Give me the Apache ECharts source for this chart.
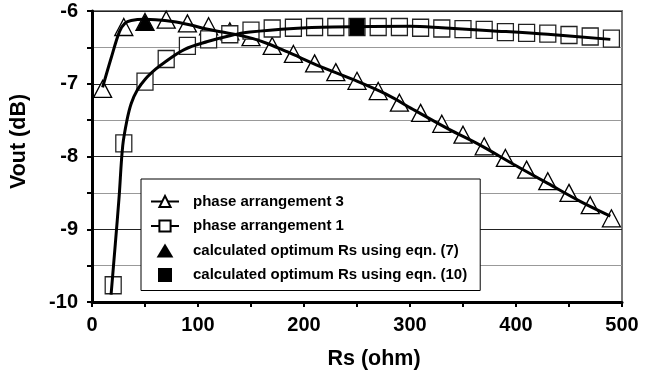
<!DOCTYPE html>
<html>
<head>
<meta charset="utf-8">
<script src="https://cdn.jsdelivr.net/npm/echarts@6/dist/echarts.min.js"></script>
<style>html,body{margin:0;padding:0;background:#fff;}#c{width:660px;height:375px;}</style>
</head>
<body>
<div id="c"></div>
<script>
// Measured points: phase arrangement 3 (triangles)
const rs3 = [10,30,50,70,90,110,130,150,170,190,210,230,250,270,290,310,330,350,370,390,410,430,450,470,490];
const vout3 = [-7.07,-6.22,-6.15,-6.12,-6.17,-6.21,-6.28,-6.36,-6.48,-6.59,-6.72,-6.84,-6.96,-7.10,-7.26,-7.40,-7.55,-7.70,-7.86,-8.02,-8.18,-8.34,-8.50,-8.67,-8.85];
// Measured points: phase arrangement 1 (squares)
const rs1 = [20,30,50,70,90,110,130,150,170,190,210,230,250,270,290,310,330,350,370,390,410,430,450,470,490];
const vout1 = [-9.77,-7.82,-6.97,-6.66,-6.48,-6.39,-6.32,-6.27,-6.24,-6.23,-6.22,-6.22,-6.22,-6.22,-6.22,-6.23,-6.24,-6.25,-6.26,-6.29,-6.30,-6.31,-6.33,-6.35,-6.38];
// Fitted curves
const fit3Rs = [10,18,26,31,37,50,60,76,92,107,123,138,152,166,184,215,246,277,305,336,367,398,430,461,489];
const fit3Vout = [-7.05,-6.65,-6.28,-6.17,-6.13,-6.115,-6.12,-6.145,-6.19,-6.245,-6.29,-6.33,-6.38,-6.45,-6.56,-6.76,-6.94,-7.14,-7.37,-7.62,-7.85,-8.11,-8.37,-8.62,-8.82];
const fit1Rs = [18,22,25.5,29,33,37,43,50,60,68,87,109,130,149,190,227,300,330,376,430,489];
const fit1Vout = [-9.9,-9.2,-8.57,-7.85,-7.5,-7.27,-7.08,-6.94,-6.8,-6.71,-6.53,-6.42,-6.34,-6.29,-6.24,-6.22,-6.21,-6.23,-6.27,-6.32,-6.39];
// Calculated optimum points
const opt7Rs = [50];  const opt7Vout = [-6.15];
const opt10Rs = [250]; const opt10Vout = [-6.22];
const names = ['phase arrangement 3','phase arrangement 1','calculated optimum Rs using eqn. (7)','calculated optimum Rs using eqn. (10)'];

const zip = (a, b) => a.map((v, i) => [v, b[i]]);
const FONT = "'Liberation Sans', Arial, sans-serif";

const chart = echarts.init(document.getElementById('c'), null, {renderer: 'canvas'});
chart.setOption({
  animation: false,
  backgroundColor: '#fff',
  grid: {left: 87, right: 38, top: 11, bottom: 70, show: true, borderColor: '#777', borderWidth: 2, backgroundColor: 'transparent'},
  legend: {
    data: [
      {name: names[0]},
      {name: names[1]},
      {name: names[2], icon: 'path://M6,0 L12,10 L0,10 Z'},
      {name: names[3], icon: 'path://M0,0 L11,0 L11,11 L0,11 Z'}
    ],
    orient: 'vertical',
    left: 141, top: 179,
    padding: [14, 13, 7, 9],
    itemGap: 7.5,
    itemWidth: 28, itemHeight: 14,
    symbolKeepAspect: true,
    selectedMode: false,
    backgroundColor: '#fff',
    borderColor: '#000', borderWidth: 1,
    lineStyle: {width: 2},
    textStyle: {fontFamily: FONT, fontSize: 15, fontWeight: 'bold', color: '#000', lineHeight: 17, padding: [0, 0, 0, 9]}
  },
  xAxis: {
    type: 'value', min: 0, max: 500, interval: 50,
    name: 'Rs (ohm)', nameLocation: 'middle', nameGap: 46,
    nameTextStyle: {fontFamily: FONT, fontSize: 21.5, fontWeight: 'bold', color: '#000', padding: [0, 0, 0, 34]},
    axisLine: {lineStyle: {color: '#000', width: 3}},
    axisTick: {show: true, inside: false, length: 5, lineStyle: {color: '#000', width: 2}},
    axisLabel: {margin: 13, fontFamily: FONT, fontSize: 20, fontWeight: 'bold', color: '#000',
      formatter: v => (v % 100 === 0 ? String(v) : '')},
    splitLine: {show: false}
  },
  yAxis: {
    type: 'value', min: -10, max: -6, interval: 0.5,
    name: 'Vout (dB)', nameLocation: 'middle', nameGap: 62,
    nameTextStyle: {fontFamily: FONT, fontSize: 21.5, fontWeight: 'bold', color: '#000', padding: [0, 0, 0, 30]},
    axisLine: {lineStyle: {color: '#000', width: 3}},
    axisTick: {show: true, inside: false, length: 5, lineStyle: {color: '#000', width: 2}},
    axisLabel: {margin: 14, fontFamily: FONT, fontSize: 20, fontWeight: 'bold', color: '#000',
      formatter: v => (Number.isInteger(v) ? String(v) : '')},
    splitLine: {show: true, lineStyle: {color: ['#222', '#999'], width: 1}}
  },
  series: [
    {name: names[0], type: 'line', data: zip(fit3Rs, fit3Vout), smooth: 0.35, showSymbol: false,
      symbol: 'triangle', z: 3, silent: true,
      lineStyle: {color: '#000', width: 3},
      itemStyle: {color: '#fff', borderColor: '#000', borderWidth: 1.3}},
    {name: names[0], type: 'scatter', data: zip(rs3, vout3), symbol: 'triangle', symbolSize: [18, 17], z: 2, silent: true,
      itemStyle: {color: '#fff', borderColor: '#000', borderWidth: 1.3, opacity: 1}},
    {name: names[1], type: 'line', data: zip(fit1Rs, fit1Vout), smooth: 0.35, showSymbol: false,
      symbol: 'rect', z: 3, silent: true,
      lineStyle: {color: '#000', width: 3},
      itemStyle: {color: '#fff', borderColor: '#000', borderWidth: 1.3}},
    {name: names[1], type: 'scatter', data: zip(rs1, vout1), symbol: 'rect', symbolSize: [16, 17], z: 2, silent: true,
      itemStyle: {color: '#fff', borderColor: '#222', borderWidth: 1.3, opacity: 1}},
    {name: names[2], type: 'scatter', data: zip(opt7Rs, opt7Vout), symbol: 'triangle', symbolSize: [17, 16], z: 4, silent: true,
      symbolKeepAspect: true,
      itemStyle: {color: '#000', opacity: 1}},
    {name: names[3], type: 'scatter', data: zip(opt10Rs, opt10Vout), symbol: 'rect', symbolSize: [15, 17], z: 4, silent: true,
      symbolKeepAspect: true,
      itemStyle: {color: '#000', opacity: 1}}
  ]
});
</script>
</body>
</html>
